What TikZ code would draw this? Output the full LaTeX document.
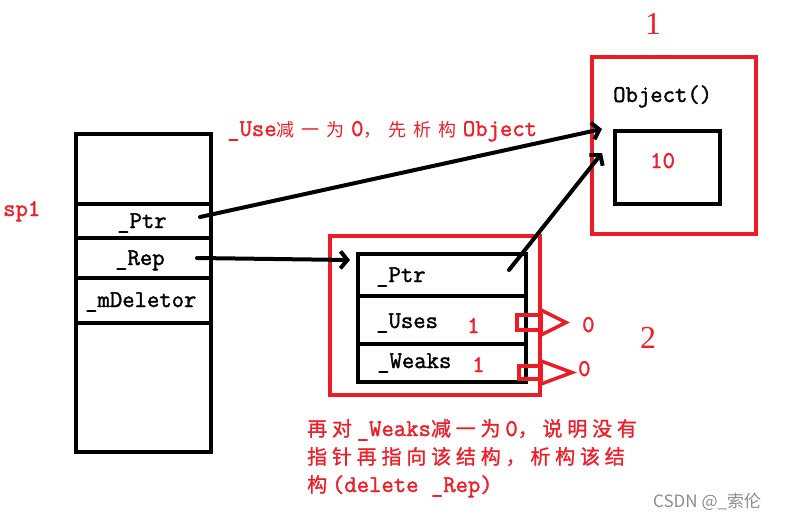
\documentclass[tikz,border=0pt]{standalone}
\usepackage{fontspec}
\usetikzlibrary{arrows.meta}
\setmonofont[FakeBold=1.6]{Latin Modern Mono}
\newfontfamily\cjktop[LetterSpace=38]{Noto Sans CJK SC}
\newfontfamily\cjkbot[LetterSpace=24,FakeBold=1.2]{Noto Sans CJK SC}
\newfontfamily\cjkplain{Noto Sans CJK SC}
\newfontfamily\numfam{Liberation Serif}
\definecolor{pred}{RGB}{237,28,36}
\definecolor{tred}{RGB}{240,30,40}
\newcommand\zhtop[1]{{\cjktop\fontsize{18}{28}\selectfont #1\kern6.84pt}}
\newcommand\zhbot[1]{{\cjkbot\fontsize{20}{28}\selectfont #1\kern4.8pt}}
\newcommand\mtxt[1]{{\ttfamily\fontsize{24}{28}\selectfont #1}}
\begin{document}
\begin{tikzpicture}[x=1pt,y=-1pt,
  blk/.style={draw=black,line width=4pt},
  redbox/.style={draw=pred,line width=4pt},
  lbl/.style={anchor=base west,inner sep=0pt,font=\ttfamily\fontsize{24}{24}\selectfont},
  rlbl/.style={lbl,text=tred},
  bignum/.style={anchor=base west,inner sep=0pt,text=tred,font=\numfam\fontsize{32}{32}\selectfont},
  zhline/.style={anchor=base west,inner sep=0pt,text=tred},
  arr/.style={line width=4pt,line cap=round,-{Straight Barb[length=7pt,width=17pt]}},
  hollow/.style={draw=pred,line width=3.5pt}]
\useasboundingbox (0,0) rectangle (790,519);

% ---- left struct sp1
\draw[blk] (76,134) rectangle (211,452);
\draw[blk] (76,204) -- (211,204);
\draw[blk] (76,238) -- (211,238);
\draw[blk] (76,278) -- (211,278);
\draw[blk] (76,323) -- (211,323);
\node[lbl] (lptr) at (117,228) {\_Ptr};
\node[lbl] (lrep) at (115,265) {\_Rep};
\node[lbl] (ldel) at (85,307) {\_mDeletor};
\node[rlbl] (sp) at (3,216) {sp1};

% ---- middle ref count block
\draw[blk] (358,254) rectangle (526,382);
\draw[blk] (358,296) -- (526,296);
\draw[blk] (358,344) -- (526,344);
\draw[redbox] (330,236) rectangle (540,395);
\node[lbl] (mptr) at (376,282) {\_Ptr};
\node[lbl] (muses) at (376,328) {\_Uses};
\node[lbl] (mweaks) at (377,368) {\_Weaks};
\node[rlbl] (u1) at (467,333) {1};
\node[rlbl] (w1) at (472,372) {1};
\draw[hollow] (517,315) rectangle (541,330);
\draw[hollow] (541,310) -- (566,322.5) -- (541,335);
\draw[hollow] (519,366) rectangle (541,379);
\draw[hollow] (541,361) -- (572,372.5) -- (541,384);
\node[rlbl] (u0) at (582,332) {0};
\node[rlbl] (w0) at (578,376) {0};
\node[bignum] (n2) at (640,348) {2};

% ---- object block
\draw[redbox] (592,57) rectangle (756,234);
\draw[blk] (615,131) rectangle (720,204);
\node[lbl] (obj) at (613,102) {Object()};
\node[rlbl] (ten) at (650,168) {10};
\node[bignum] (n1) at (645,35) {1};

% ---- connectors
\coordinate (p1s) at (200,217);
\coordinate (p1e) at (602,129);
\coordinate (r1s) at (197,258);
\coordinate (r1e) at (350,260);
\coordinate (p2s) at (509,270);
\coordinate (p2e) at (602,153);
\draw[arr] (p1s) -- (p1e);
\draw[arr] (r1s) -- (r1e);
\draw[arr] (p2s) -- (p2e);

% ---- notes
\node[zhline] (note1) at (227,136) {\mtxt{\_Use}\zhtop{减一为}\mtxt{0}\zhtop{，先析构}\mtxt{Object}};
\node[zhline] (note2a) at (307,436) {\zhbot{再对}\mtxt{\_Weaks}\zhbot{减一为}\mtxt{0}\zhbot{，说明没有}};
\node[zhline] (note2b) at (307,464) {\zhbot{指针再指向该结构，析构该结}};
\node[zhline] (note2c) at (307,492) {\zhbot{构}\mtxt{(delete \_Rep)}};

\node[anchor=base west,inner sep=0pt,text=black!45,font=\cjkplain\fontsize{17}{17}\selectfont] (wm) at (653,507) {CSDN @\_索伦};
\end{tikzpicture}
\end{document}
